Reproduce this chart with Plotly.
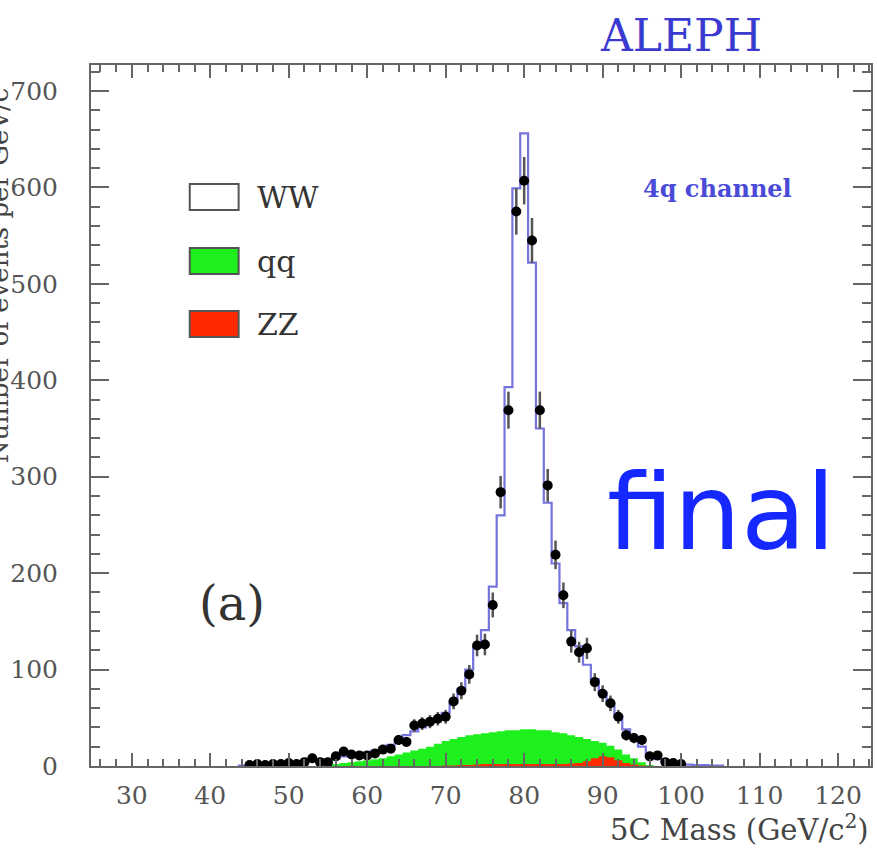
import numpy as np
import plotly.graph_objects as go

# ---------------- data ----------------
data_mass = list(range(45, 101))  # bin centres (GeV/c^2)
data_events = [1, 2, 1, 2, 2, 3, 2, 4,
               8, 4, 4, 10, 15, 12, 11, 11, 13, 17,
               18, 27, 25, 42, 44, 46, 49, 51, 67, 78,
               95, 125, 126, 167, 284, 369, 575, 607, 545, 369,
               291, 219, 177, 129, 118, 122, 87, 75, 65, 51,
               32, 29, 27, 10, 11, 4, 3, 2]

mc_mass = list(range(44, 106))
mc_total = [0.5, 1, 1, 1.5, 2, 2, 3, 3, 4, 5,
            6, 7, 8, 10, 11, 12, 14, 16, 19, 22,
            27, 32, 36, 40, 45, 49, 55, 66, 80, 100,
            123, 141, 186, 260, 393, 599, 656, 522, 350, 273,
            210, 169, 141, 124, 105, 90, 76, 64, 52, 38,
            30, 20, 12, 7, 4, 3, 2, 1.5, 1, 1, 0.5, 0.5]

bkg_mass = list(range(54, 97))
qq_events = [0.5, 1, 2, 3, 4, 5, 6, 7, 8, 10, 12, 14, 16, 18, 20, 23,
             25.5, 27.5, 29, 31, 31.5, 32, 33, 34, 35, 35, 36, 36, 35, 35,
             33, 32, 29.5, 27, 23, 18, 14, 12, 11, 9, 6.5, 3.5, 1]
zz_events = [0] * 16 + [0.5, 0.5, 1, 1, 1.5, 2, 2, 2, 2, 2, 2, 2, 2, 2,
                        2, 2, 2.5, 3, 5, 8, 10, 9, 6, 3, 1.5, 0.5, 0]

legend_labels = ["WW", "qq", "ZZ"]


def steps(centres, values):
    edges = [c - 0.5 for c in centres] + [centres[-1] + 0.5]
    return edges, list(values) + [values[-1]]


qq_stack = [q + z for q, z in zip(qq_events, zz_events)]

SERIF = "DejaVu Serif"
fig = go.Figure()

x, y = steps(bkg_mass, qq_stack)
fig.add_trace(go.Scatter(x=x, y=y, mode="lines", line=dict(shape="hv", width=0, color="#1ef01e"),
                         fill="tozeroy", fillcolor="#1ef01e", hoverinfo="skip"))
x, y = steps(bkg_mass, zz_events)
fig.add_trace(go.Scatter(x=x, y=y, mode="lines", line=dict(shape="hv", width=0, color="#ff2a00"),
                         fill="tozeroy", fillcolor="#ff2a00", hoverinfo="skip"))
x, y = steps(mc_mass, mc_total)
fig.add_trace(go.Scatter(x=x, y=y, mode="lines", line=dict(shape="hv", width=2.2, color="#7474dc")))

fig.add_trace(go.Scatter(
    x=data_mass, y=data_events, mode="markers",
    marker=dict(color="black", size=10),
    error_y=dict(type="data", array=np.sqrt(data_events), color="#555555", thickness=2.5, width=0),
    error_x=dict(type="constant", value=0.5, color="black", thickness=2, width=0),
))

axis_common = dict(showline=True, linecolor="#666666", linewidth=2, mirror="allticks",
                   ticks="inside", tickcolor="#666666", tickwidth=2,
                   showgrid=False, zeroline=False,
                   tickfont=dict(family=SERIF, size=25, color="#555555"))

fig.update_xaxes(range=[24.8, 124.2], tick0=0, dtick=10, ticklen=13,
                 minor=dict(ticks="inside", dtick=2, tick0=0, ticklen=7, tickcolor="#666666", tickwidth=2),
                 ticklabelstandoff=6, **axis_common)
fig.update_yaxes(range=[0, 727], tick0=0, dtick=100, ticklen=18,
                 minor=dict(ticks="inside", dtick=20, tick0=0, ticklen=9, tickcolor="#666666", tickwidth=2),
                 ticklabelstandoff=26, **axis_common)

# legend (drawn manually)
legend_colors = ["white", "#1ef01e", "#ff2a00"]
legend_y = [197, 261, 324]
for lab, col, py in zip(legend_labels, legend_colors, legend_y):
    y0 = (766 - (py + 13)) / 701
    y1 = (766 - (py - 13)) / 701
    fig.add_shape(type="rect", xref="paper", yref="paper",
                  x0=(190 - 91) / 782, x1=(239 - 91) / 782, y0=y0, y1=y1,
                  fillcolor=col, line=dict(color="#555555", width=2))
    fig.add_annotation(xref="paper", yref="paper", x=(255 - 91) / 782, y=(766 - py) / 701,
                       text=lab, showarrow=False, xanchor="left", yanchor="middle",
                       font=dict(family=SERIF, size=30, color="#333333"))

fig.add_annotation(xref="paper", yref="paper", x=(683 - 91) / 782, y=(766 - 35) / 701,
                   text="ALEPH", showarrow=False, xanchor="center", yanchor="middle",
                   font=dict(family=SERIF, size=44, color="#3a3ad0"))
fig.add_annotation(xref="paper", yref="paper", x=(719 - 91) / 782, y=(766 - 188) / 701,
                   text="<b>4q channel</b>", showarrow=False, xanchor="center", yanchor="middle",
                   font=dict(family=SERIF, size=24, color="#4a4ad8"))
fig.add_annotation(xref="paper", yref="paper", x=(232 - 91) / 782, y=(766 - 603) / 701,
                   text="(a)", showarrow=False, xanchor="center", yanchor="middle",
                   font=dict(family=SERIF, size=48, color="#333333"))
fig.add_annotation(xref="paper", yref="paper", x=(723 - 91) / 782, y=(766 - 512) / 701,
                   text="final", showarrow=False, xanchor="center", yanchor="middle",
                   font=dict(family="Comic Sans MS, DejaVu Sans", size=106, color="#1428ff"))
fig.add_annotation(xref="paper", yref="paper", x=1.0, y=(766 - 828) / 701,
                   text="5C Mass (GeV/c<sup>2</sup>)", showarrow=False, xanchor="right", yanchor="middle",
                   font=dict(family=SERIF, size=29, color="#444444"))
fig.add_annotation(xref="paper", yref="paper", x=(-3 - 91) / 782, y=(766 - 270) / 701,
                   text="Number of events per GeV/c<sup>2</sup>", showarrow=False, textangle=-90,
                   xanchor="center", yanchor="middle",
                   font=dict(family=SERIF, size=26, color="#444444"))

fig.update_layout(width=877, height=848, margin=dict(l=91, r=4, t=65, b=82),
                  paper_bgcolor="white", plot_bgcolor="white", showlegend=False)

fig.write_html("out.html")
